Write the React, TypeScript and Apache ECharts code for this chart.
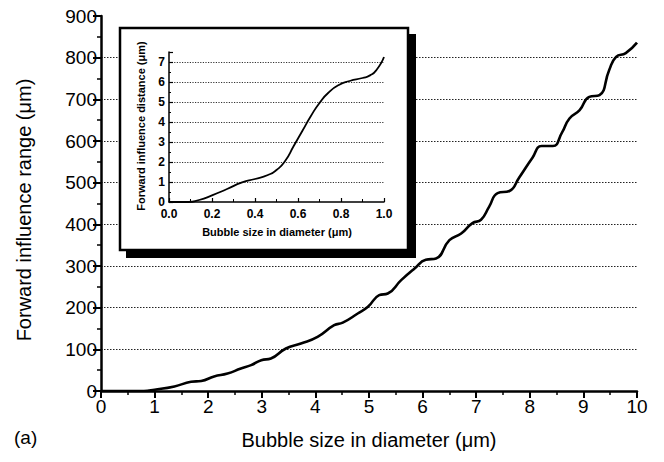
import React, { useEffect, useRef } from "react";
import * as echarts from "echarts";

// Main panel: forward influence range vs. bubble diameter (0–10 µm)
const sizeUm = [0, 0.5, 0.8, 1.0, 1.37, 1.68, 1.87, 2.11, 2.36, 2.61, 2.8, 2.99, 3.17, 3.45, 3.73, 4.04, 4.35, 4.51, 4.79, 4.98, 5.19, 5.35, 5.6, 5.85, 6.06, 6.25, 6.5, 6.72, 6.93, 7.09, 7.24, 7.4, 7.62, 7.8, 8.05, 8.22, 8.43, 8.6, 8.74, 8.93, 9.11, 9.3, 9.48, 9.61, 9.79, 10];
const rangeUm = [0, 0, 0, 3, 11, 22, 24, 35, 42, 54, 62, 74, 78, 102, 114, 130, 158, 164, 186, 202, 230, 234, 266, 294, 315, 318, 362, 378, 403, 411, 442, 475, 480, 512, 560, 588, 588, 620, 654, 674, 706, 710, 770, 802, 811, 836];

// Inset: forward influence distance for sub-micron bubbles (0–1 µm)
const insetSize = [0, 0.05, 0.09, 0.14, 0.2, 0.27, 0.34, 0.4, 0.46, 0.5, 0.54, 0.58, 0.62, 0.66, 0.7, 0.74, 0.79, 0.84, 0.9, 0.935, 0.965, 1.0];
const insetDist = [0, 0, 0, 0.1, 0.33, 0.65, 0.98, 1.15, 1.35, 1.6, 2.05, 2.8, 3.55, 4.3, 4.95, 5.45, 5.85, 6.05, 6.2, 6.33, 6.6, 7.25];

const FONT = "'Liberation Sans', Arial, Helvetica, sans-serif";
const BLACK = "#000";

export default function App() {
  const ref = useRef<HTMLDivElement>(null);

  useEffect(() => {
    if (!ref.current) return;
    const chart = echarts.init(ref.current, undefined, { renderer: "svg" });

    const mainData = sizeUm.map((x, i) => [x, rangeUm[i]]);
    const insetData = insetSize.map((x, i) => [x, insetDist[i]]);

    const mainAxisLine = { show: true, onZero: false, lineStyle: { color: BLACK, width: 2.5 } };
    const insetAxisLine = { show: true, onZero: false, lineStyle: { color: BLACK, width: 1.5 } };

    chart.setOption({
      animation: false,
      backgroundColor: "#fff",
      grid: [
        { left: 101, right: 27, top: 16, bottom: 71 },
        { left: 169, width: 215, top: 52, height: 150, z: 20 },
      ],
      xAxis: [
        {
          type: "value",
          gridIndex: 0,
          min: 0,
          max: 10,
          interval: 1,
          axisLine: mainAxisLine,
          axisTick: { show: true, inside: false, length: 7, lineStyle: { color: BLACK, width: 2 } },
          minorTick: { show: true, splitNumber: 2, length: 4, lineStyle: { color: BLACK, width: 1.5 } },
          axisLabel: { color: BLACK, fontSize: 19, fontFamily: FONT, margin: 6 },
          splitLine: { show: false },
        },
        {
          type: "value",
          gridIndex: 1,
          min: 0,
          max: 1,
          interval: 0.2,
          z: 20,
          axisLine: insetAxisLine,
          axisTick: { show: true, inside: true, length: 4, lineStyle: { color: BLACK, width: 1.2 } },
          minorTick: { show: true, splitNumber: 2, length: 3, lineStyle: { color: BLACK, width: 1 } },
          axisLabel: {
            color: BLACK,
            fontSize: 12,
            fontWeight: "bold",
            fontFamily: FONT,
            margin: 6,
            formatter: (v: number) => v.toFixed(1),
          },
          splitLine: { show: false },
        },
      ],
      yAxis: [
        {
          type: "value",
          gridIndex: 0,
          min: 0,
          max: 900,
          interval: 100,
          axisLine: mainAxisLine,
          axisTick: { show: true, inside: false, length: 8, lineStyle: { color: BLACK, width: 2 } },
          minorTick: { show: true, splitNumber: 2, length: 4, lineStyle: { color: BLACK, width: 1.5 } },
          axisLabel: { color: BLACK, fontSize: 19, fontFamily: FONT, margin: 4 },
          splitLine: {
            show: true,
            showMinLine: false,
            showMaxLine: false,
            lineStyle: { color: "#222", width: 1.2, type: [1.5, 1.5] },
          },
        },
        {
          type: "value",
          gridIndex: 1,
          min: 0,
          max: 7.5,
          interval: 1,
          z: 20,
          axisLine: insetAxisLine,
          axisTick: { show: true, inside: true, length: 4, lineStyle: { color: BLACK, width: 1.2 } },
          minorTick: { show: true, splitNumber: 2, length: 2, lineStyle: { color: BLACK, width: 1 } },
          axisLabel: {
            color: BLACK,
            fontSize: 12,
            fontWeight: "bold",
            fontFamily: FONT,
            margin: 4,
            lineHeight: 11,
          },
          splitLine: {
            show: true,
            showMinLine: false,
            showMaxLine: false,
            lineStyle: { color: "#333", width: 1, type: [1.2, 1.4] },
          },
        },
      ],
      series: [
        {
          type: "line",
          xAxisIndex: 0,
          yAxisIndex: 0,
          data: mainData,
          smooth: 0.5,
          showSymbol: false,
          lineStyle: { color: BLACK, width: 2.6 },
          z: 3,
        },
        {
          type: "line",
          xAxisIndex: 1,
          yAxisIndex: 1,
          data: insetData,
          smooth: 0.6,
          showSymbol: false,
          lineStyle: { color: BLACK, width: 1.8 },
          z: 22,
        },
      ],
      graphic: [
        // inset frame with its drop shadow
        {
          type: "rect",
          z: 10,
          shape: { x: 126, y: 34, width: 290, height: 224 },
          style: { fill: BLACK },
        },
        {
          type: "rect",
          z: 11,
          shape: { x: 120, y: 28, width: 288, height: 222 },
          style: { fill: "#fff", stroke: BLACK, lineWidth: 2.5 },
        },
        {
          type: "text",
          z: 12,
          x: 141,
          y: 126,
          rotation: Math.PI / 2,
          style: {
            text: "Forward influence distance (\u03bcm)",
            fontSize: 11,
            fontWeight: "bold",
            fontFamily: FONT,
            fill: BLACK,
            align: "center",
            verticalAlign: "middle",
          },
        },
        {
          type: "text",
          z: 12,
          x: 277,
          y: 232,
          style: {
            text: "Bubble size in diameter (\u03bcm)",
            fontSize: 11,
            fontWeight: "bold",
            fontFamily: FONT,
            fill: BLACK,
            align: "center",
            verticalAlign: "middle",
          },
        },
        // main axis titles and panel tag
        {
          type: "text",
          x: 24,
          y: 210,
          rotation: Math.PI / 2,
          style: {
            text: "Forward influence range (\u03bcm)",
            fontSize: 20,
            fontFamily: FONT,
            fill: BLACK,
            align: "center",
            verticalAlign: "middle",
          },
        },
        {
          type: "text",
          x: 369,
          y: 440,
          style: {
            text: "Bubble size in diameter (\u03bcm)",
            fontSize: 20,
            fontFamily: FONT,
            fill: BLACK,
            align: "center",
            verticalAlign: "middle",
          },
        },
        {
          type: "text",
          x: 14,
          y: 437,
          style: {
            text: "(a)",
            fontSize: 19,
            fontFamily: FONT,
            fill: BLACK,
            align: "left",
            verticalAlign: "middle",
          },
        },
      ],
    });

    return () => chart.dispose();
  }, []);

  return (
    <div
      ref={ref}
      style={{ position: "fixed", left: 0, top: 0, width: 664, height: 462 }}
    />
  );
}
